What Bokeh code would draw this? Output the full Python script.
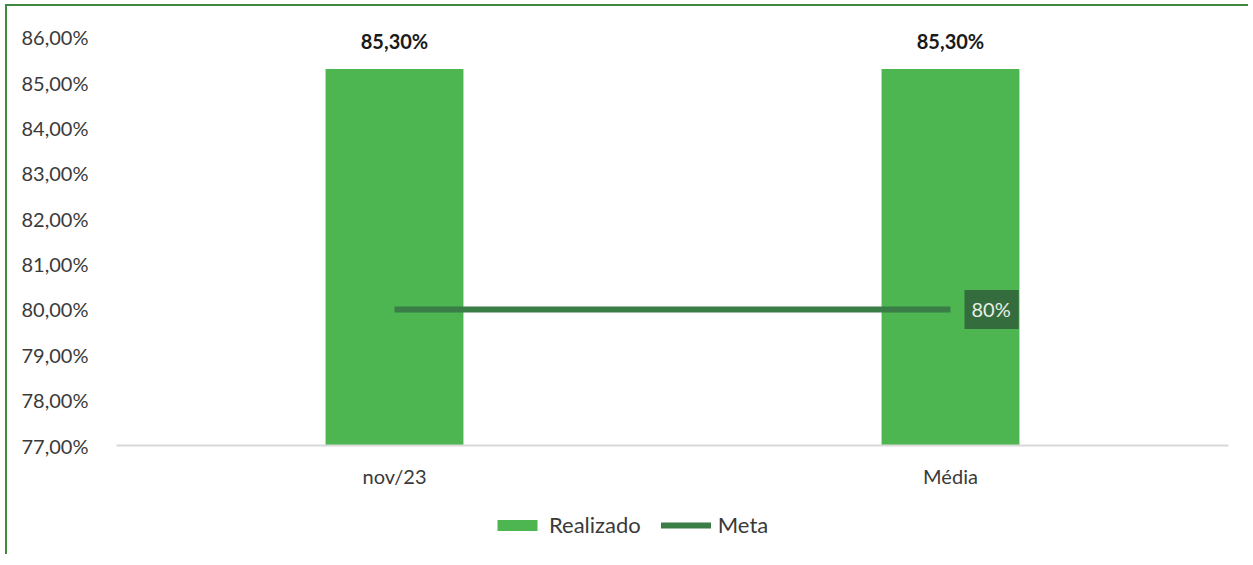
from bokeh.plotting import figure
from bokeh.layouts import column
from bokeh.models import ColumnDataSource, FixedTicker, Legend, LegendItem
from bokeh.core.properties import value
from bokeh.embed import file_html
from bokeh.resources import INLINE

categories = ["nov/23", "Média"]
realizado = [0.853, 0.853]
realizado_labels = ["85,30%", "85,30%"]
meta = [0.80, 0.80]
meta_label = "80%"
y_ticks = [0.77, 0.78, 0.79, 0.80, 0.81, 0.82, 0.83, 0.84, 0.85, 0.86]
y_tick_labels = ["77,00%", "78,00%", "79,00%", "80,00%", "81,00%", "82,00%", "83,00%", "84,00%", "85,00%", "86,00%"]
series_names = ["Realizado", "Meta"]

FONT = "Lato"
BAR = "#4db651"
META = "#3b7d47"
TXT = "#3a3a3a"
BORDER = "#3f8a3f"

src = ColumnDataSource(dict(cat=categories, real=realizado, rl=realizado_labels, meta=meta))
lab_src = ColumnDataSource(dict(cat=[categories[-1]], meta=[meta[-1]], ml=[meta_label]))

p = figure(x_range=categories, y_range=(0.77, 0.8668), width=1243, height=500,
           output_backend="svg", toolbar_location=None,
           min_border_left=109, min_border_right=22, min_border_top=0, min_border_bottom=61)
p.styles = {"margin-left": "5px", "margin-top": "4px",
            "border-left": f"2px solid {BORDER}", "border-top": f"2px solid {BORDER}"}
p.outline_line_color = None
p.background_fill_color = "white"
p.border_fill_color = "white"
p.xgrid.visible = False
p.ygrid.visible = False

bars = p.vbar(x="cat", top="real", bottom=0.77, width=0.248, source=src,
              fill_color=BAR, line_color=None)
line = p.line(x="cat", y="meta", source=src, line_color=META, line_width=6)

p.text(x="cat", y="real", text="rl", source=src, text_font=value(FONT),
       text_font_style="bold", text_font_size="20px", text_color="#1a1a1a",
       text_align="center", text_baseline="middle", y_offset=-28)

p.text(x="cat", y="meta", text="ml", source=lab_src, text_font=value(FONT),
       text_font_size="20px", text_color="#e8efe4",
       text_align="left", text_baseline="middle", x_offset=14,
       background_fill_color="#356c3e", padding=[7, 8, 7, 8])

p.yaxis.ticker = FixedTicker(ticks=y_ticks)
p.yaxis.major_label_overrides = {t: l for t, l in zip(y_ticks, y_tick_labels)}
p.yaxis.axis_line_color = None
p.yaxis.major_tick_line_color = None
p.yaxis.minor_tick_line_color = None
p.yaxis.major_label_text_font = FONT
p.yaxis.major_label_text_font_size = "20px"
p.yaxis.major_label_text_color = TXT
p.yaxis.major_label_standoff = 22

p.xaxis.axis_line_color = "#d9d9d9"
p.xaxis.axis_line_width = 2
p.xaxis.major_tick_line_color = None
p.xaxis.minor_tick_line_color = None
p.xaxis.major_label_text_font = FONT
p.xaxis.major_label_text_font_size = "20px"
p.xaxis.major_label_text_color = TXT
p.xaxis.major_label_standoff = 12

# legend strip below the chart (hidden copies of the series, only their legend shows)
lg = figure(width=1243, height=50, x_range=categories, y_range=(0.77, 0.86),
            output_backend="svg", toolbar_location=None,
            x_axis_location=None, y_axis_location=None,
            min_border_left=0, min_border_right=0, min_border_top=0, min_border_bottom=0)
lg.styles = {"margin-left": "5px", "border-left": f"2px solid {BORDER}"}
lg.outline_line_color = None
lg.xgrid.visible = False
lg.ygrid.visible = False
lg.border_fill_color = "white"
lb = lg.vbar(x="cat", top="real", bottom=0.77, width=0.248, source=src,
             fill_color=BAR, line_color=None, visible=False)
ll = lg.line(x="cat", y="meta", source=src, line_color=META, line_width=6,
             line_cap="round", visible=False)
legend = Legend(items=[LegendItem(label=series_names[0], renderers=[lb]),
                       LegendItem(label=series_names[1], renderers=[ll])],
                orientation="horizontal", location=(376, 16),
                glyph_width=50, glyph_height=14, label_text_font=FONT,
                label_text_font_size="22px", label_text_color=TXT,
                spacing=20, label_standoff=7, border_line_color=None,
                background_fill_alpha=0, margin=0, padding=4,
                inactive_fill_alpha=0)
lg.add_layout(legend, "center")

layout = column(p, lg, spacing=0)
open("out.html", "w").write(file_html(layout, INLINE))
